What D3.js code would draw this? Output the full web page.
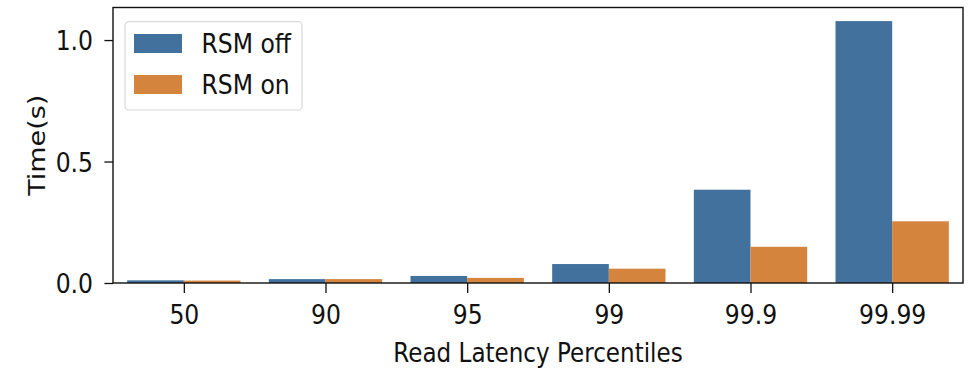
<!DOCTYPE html>
<html>
<head>
<meta charset="utf-8">
<script src="https://cdn.jsdelivr.net/npm/d3@7"></script>
<style>
  html, body { margin: 0; padding: 0; background: #fff; }
  svg { display: block; }
  text { font-family: "DejaVu Sans", sans-serif; fill: #111; }
</style>
</head>
<body>
<svg id="chart" width="976" height="368"></svg>
<script>
// ---- data ----
const categories = ["50", "90", "95", "99", "99.9", "99.99"];
const seriesNames = ["RSM off", "RSM on"];
const rsmOff = [0.011, 0.016, 0.029, 0.078, 0.384, 1.078];
const rsmOn  = [0.010, 0.016, 0.021, 0.059, 0.149, 0.254];
const yTicks = [0.0, 0.5, 1.0];
const colors = ["#42719d", "#d5843e"];

// ---- layout ----
const W = 976, H = 368;
const plot = { left: 113, right: 963, top: 7.5, bottom: 283 };
const FS = 27, SX = 0.87;

const svg = d3.select("#chart");

const x = d3.scaleLinear().domain([-0.5, categories.length - 0.5]).range([plot.left, plot.right]);
const y = d3.scaleLinear().domain([0, 1.134]).range([plot.bottom, plot.top]);
const barW = x(0.4) - x(0);

const data = [];
categories.forEach((c, i) => {
  data.push({ i, s: 0, v: rsmOff[i] });
  data.push({ i, s: 1, v: rsmOn[i] });
});

svg.append("g").selectAll("rect").data(data).join("rect")
  .attr("x", d => x(d.i - 0.4 + d.s * 0.4))
  .attr("width", barW)
  .attr("y", d => y(d.v))
  .attr("height", d => y(0) - y(d.v))
  .attr("fill", d => colors[d.s]);

// frame
svg.append("rect")
  .attr("x", plot.left).attr("y", plot.top)
  .attr("width", plot.right - plot.left).attr("height", plot.bottom - plot.top)
  .attr("fill", "none").attr("stroke", "#111").attr("stroke-width", 1.4);

// x axis
const xAxis = d3.axisBottom(x)
  .tickValues(d3.range(categories.length))
  .tickFormat(i => categories[i])
  .tickSize(10).tickPadding(0);
const gx = svg.append("g").attr("transform", `translate(0,${plot.bottom})`).call(xAxis);
gx.select(".domain").remove();
gx.selectAll(".tick line").attr("stroke", "#111").attr("stroke-width", 1.3);
gx.selectAll(".tick text")
  .attr("y", null).attr("dy", null)
  .attr("transform", `translate(0,41) scale(${SX},1)`)
  .attr("font-size", FS).attr("font-family", "DejaVu Sans").attr("fill", "#111");

// y axis
const yAxis = d3.axisLeft(y).tickValues(yTicks).tickFormat(d3.format(".1f")).tickSize(8.6).tickPadding(0);
const gy = svg.append("g").attr("transform", `translate(${plot.left},0)`).call(yAxis);
gy.select(".domain").remove();
gy.selectAll(".tick line").attr("stroke", "#111").attr("stroke-width", 1.3);
gy.selectAll(".tick text")
  .attr("x", null).attr("dy", null)
  .attr("transform", `translate(-20,9.8) scale(${SX},1)`)
  .attr("text-anchor", "end")
  .attr("font-size", FS).attr("font-family", "DejaVu Sans").attr("fill", "#111");

// axis labels
svg.append("text")
  .attr("transform", `translate(${(plot.left + plot.right) / 2},361.5) scale(${SX},1)`)
  .attr("text-anchor", "middle").attr("font-size", 26.5)
  .text("Read Latency Percentiles");

svg.append("text")
  .attr("transform", `translate(45,${(plot.top + plot.bottom) / 2}) scale(${SX},1) rotate(-90)`)
  .attr("text-anchor", "middle").attr("font-size", FS)
  .text("Time(s)");

// legend
const lg = svg.append("g");
lg.append("rect")
  .attr("x", 125).attr("y", 21.7).attr("width", 177).attr("height", 88.3)
  .attr("rx", 4).attr("fill", "#fff").attr("fill-opacity", 0.85)
  .attr("stroke", "#d8d8d8").attr("stroke-width", 1.2);
seriesNames.forEach((name, k) => {
  const yy = 34 + k * 41;
  lg.append("rect").attr("x", 134).attr("y", yy).attr("width", 48).attr("height", 19)
    .attr("fill", colors[k]);
  lg.append("text")
    .attr("transform", `translate(201.5,${yy + 19}) scale(${SX},1)`)
    .attr("font-size", FS).text(name);
});
</script>
</body>
</html>
